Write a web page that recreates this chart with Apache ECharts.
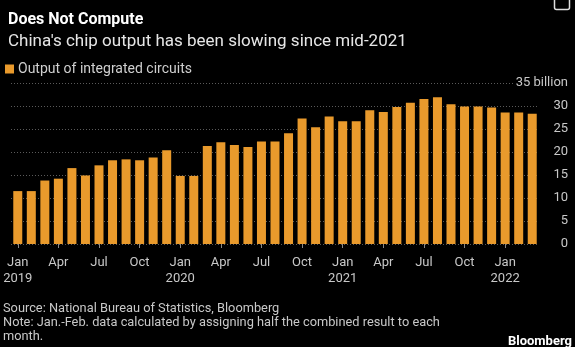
<!DOCTYPE html>
<html><head><meta charset="utf-8">
<script src="https://cdn.jsdelivr.net/npm/echarts@6/dist/echarts.min.js"></script>
<style>html,body{margin:0;padding:0;background:#000;}#c{width:575px;height:347px;}</style>
</head><body><div id="c"></div>
<script>
const months = ['Jan','Feb','Mar','Apr','May','Jun','Jul','Aug','Sep','Oct','Nov','Dec'];
const years = [2019, 2020, 2021, 2022];
const categories = [];
years.forEach(y => months.forEach((m, i) => { if (y < 2022 || i < 3) categories.push(m + ' ' + y); }));
const output = [
  11.5, 11.5, 13.8, 14.2, 16.5, 14.9, 17.1, 18.2, 18.4, 18.2, 18.8, 20.4,
  14.8, 14.8, 21.3, 22.1, 21.5, 21.1, 22.3, 22.3, 24.1, 27.3, 25.4, 27.7,
  26.7, 26.7, 29.1, 28.7, 29.8, 30.7, 31.5, 31.9, 30.4, 29.9, 29.9, 29.7,
  28.6, 28.6, 28.3
];
const yTicks = [0, 5, 10, 15, 20, 25, 30, 35];
const seriesName = 'Output of integrated circuits';
const FONT = 'Roboto';

const chart = echarts.init(document.getElementById('c'));
chart.setOption({
  backgroundColor: '#000',
  animation: false,
  textStyle: { fontFamily: FONT },
  title: [
    { text: 'Does Not Compute', left: 3, top: 7, textStyle: { color: '#fff', fontSize: 16, fontWeight: 'bold', fontFamily: FONT } },
    { text: "China's chip output has been slowing since mid-2021", left: 3, top: 28, textStyle: { color: '#e6e6e6', fontSize: 17, fontWeight: 'normal', fontFamily: FONT } }
  ],
  legend: {
    left: 0, top: 57, itemWidth: 9, itemHeight: 9, itemGap: 5, icon: 'rect',
    textStyle: { color: '#cfcfcf', fontSize: 14, fontFamily: FONT, padding: [0,0,0,-1] },
    data: [seriesName]
  },
  grid: { left: 11, right: 36, top: 83, bottom: 103 },
  xAxis: {
    type: 'category', data: categories, boundaryGap: true,
    axisLine: { show: false },
    axisTick: { show: true, alignWithLabel: true, length: 4, lineStyle: { color: '#888' }, interval: (i) => i % 3 === 0 },
    axisLabel: {
      interval: (i) => i % 3 === 0, color: '#c8c8c8', fontSize: 13, fontFamily: FONT, margin: 11, lineHeight: 16,
      formatter: (v) => { const [m, y] = v.split(' '); return m === 'Jan' ? m + '\n' + y : m; }
    }
  },
  yAxis: {
    type: 'value', position: 'right', min: 0, max: 35, interval: 5,
    axisLine: { show: false }, axisTick: { show: false },
    splitLine: { lineStyle: { color: '#5a5a5a', type: [1, 2], width: 1 } },
    axisLabel: {
      color: '#c8c8c8', fontSize: 13, fontFamily: FONT, align: 'right', margin: 29,
      backgroundColor: '#000', padding: [0, 0, 0, 2],
      formatter: (v) => yTicks.includes(v) ? (v === 35 ? '35 billion' : String(v)) : ''
    }
  },
  series: [{
    name: seriesName, type: 'bar', data: output, barWidth: 9,
    itemStyle: { color: '#E99A2C' }
  }],
  graphic: [
    { type: 'text', left: 3, top: 302, style: { text: 'Source: National Bureau of Statistics, Bloomberg', fill: '#c8c8c8', fontSize: 12.8, fontFamily: FONT } },
    { type: 'text', left: 3, top: 316, style: { text: 'Note: Jan.-Feb. data calculated by assigning half the combined result to each\nmonth.', fill: '#c8c8c8', fontSize: 12.8, fontFamily: FONT, lineHeight: 14 } },
    { type: 'text', right: 3, top: 335, style: { text: 'Bloomberg', fill: '#fff', fontSize: 13, fontWeight: 'bold', fontFamily: FONT } },
    { type: 'rect', left: 552, top: -4, shape: { width: 15, height: 11, r: 2 }, style: { fill: 'none', stroke: '#ddd', lineWidth: 1.5 } }
  ]
});
</script></body></html>
